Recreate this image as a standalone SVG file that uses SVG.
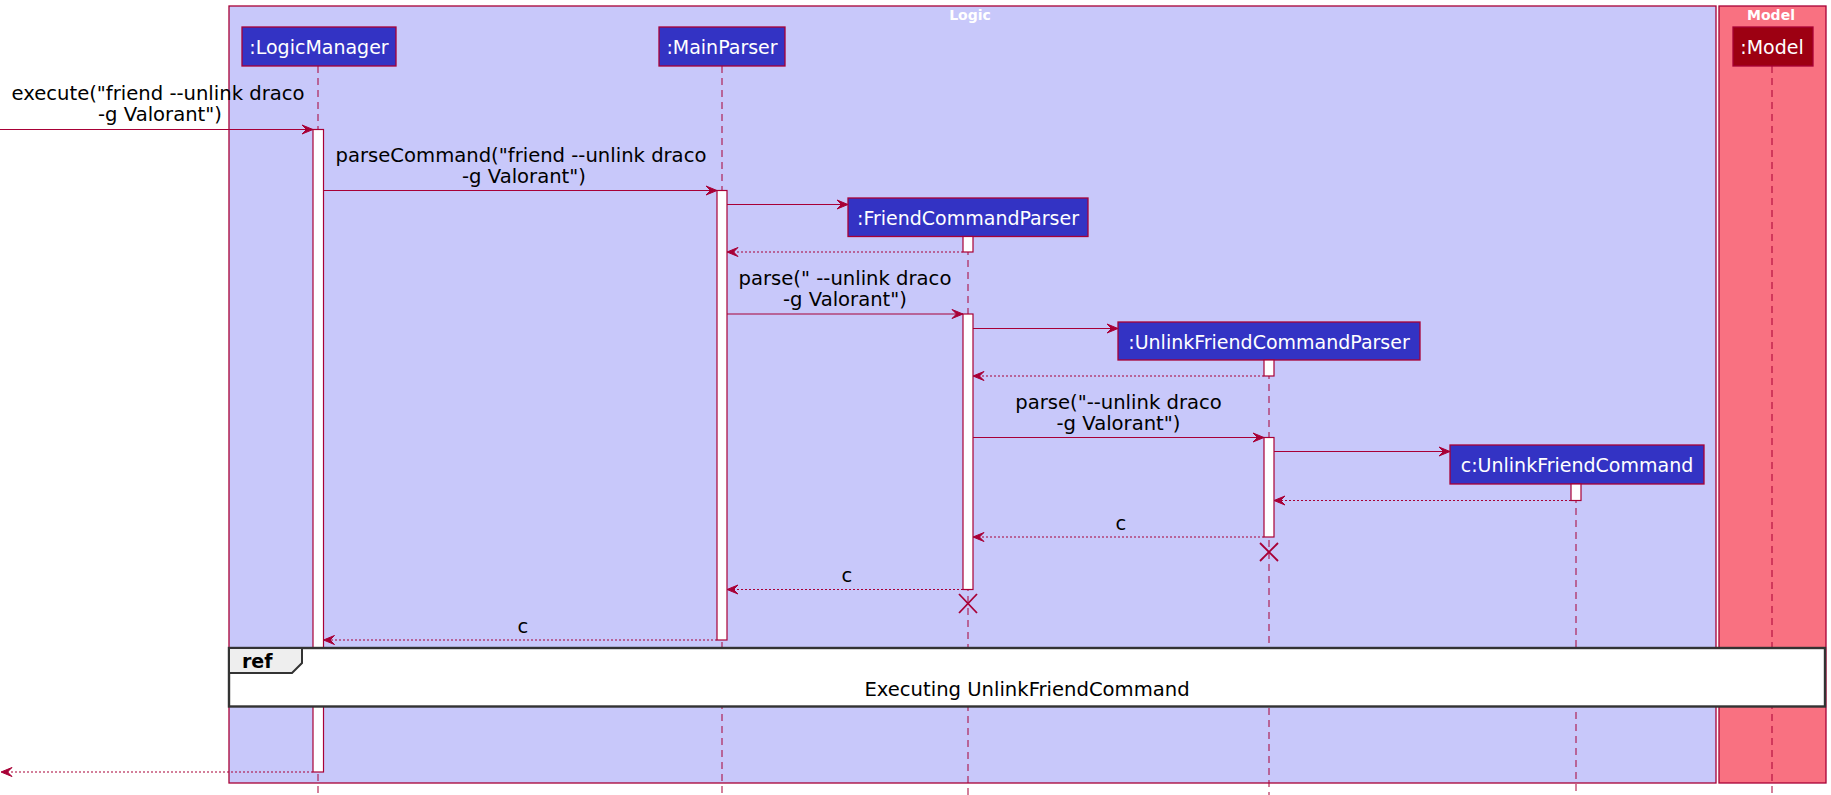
<svg xmlns="http://www.w3.org/2000/svg" width="1831" height="795" viewBox="0 0 1831 795">
<defs>
<style>
.frame{stroke:#A80036;stroke-width:1.3}
.ftitle{font-family:"DejaVu Sans",sans-serif;font-size:14px;font-weight:bold;fill:#FFFFFF;text-anchor:middle}
.head{stroke:#A80036;stroke-width:1.3}
.htxt{font-family:"DejaVu Sans",sans-serif;font-size:19px;fill:#FFFFFF;text-anchor:middle}
.life{stroke:#A80036;stroke-width:1;stroke-dasharray:7,5;fill:none}
.act{fill:#FFFFFF;stroke:#A80036;stroke-width:1.2}
.msg{stroke:#A80036;stroke-width:1.2;fill:none}
.ret{stroke:#A80036;stroke-width:1.2;fill:none;stroke-dasharray:2,2}
.mtxt{font-family:"DejaVu Sans",sans-serif;font-size:19.6px;fill:#000000;text-anchor:middle}
.kill{stroke:#A80036;stroke-width:1.8}
</style>
<marker id="ah" viewBox="-12 -6 13 12" refX="0" refY="0" markerWidth="13" markerHeight="12" markerUnits="userSpaceOnUse" orient="auto">
<path d="M0,0 L-11,-4.5 L-6.5,0 L-11,4.5 Z" fill="#A80036" stroke="#A80036" stroke-width="1" stroke-dasharray="none"/>
</marker>
</defs>
<rect width="1831" height="795" fill="#FFFFFF"/>

<g id="box-logic">
<rect class="frame" x="229" y="6" width="1487" height="777" fill="#C8C8FA"/>
<text class="ftitle" x="970" y="20">Logic</text>
</g>
<g id="box-model">
<rect class="frame" x="1719" y="6" width="107" height="777" fill="#F97181"/>
<text class="ftitle" x="1771" y="20">Model</text>
</g>

<g id="lifelines">
<line class="life" x1="318" y1="66" x2="318" y2="795"/>
<line class="life" x1="722" y1="66" x2="722" y2="795"/>
<line class="life" x1="968" y1="236" x2="968" y2="795"/>
<line class="life" x1="1269" y1="360" x2="1269" y2="795"/>
<line class="life" x1="1576" y1="484" x2="1576" y2="795"/>
<line class="life" x1="1772" y1="66" x2="1772" y2="795"/>
</g>

<g id="LogicManager">
<rect class="head" x="242" y="27" width="154" height="39" fill="#3333C4"/>
<text class="htxt" x="319" y="54">:LogicManager</text>
<rect class="act" x="313" y="129.5" width="10.5" height="642.5"/>
</g>
<g id="MainParser">
<rect class="head" x="659" y="27" width="126" height="39" fill="#3333C4"/>
<text class="htxt" x="722" y="54">:MainParser</text>
<rect class="act" x="717" y="190.5" width="10" height="449.5"/>
</g>
<g id="FriendCommandParser">
<rect class="head" x="848" y="198" width="240" height="38.5" fill="#3333C4"/>
<text class="htxt" x="968" y="225">:FriendCommandParser</text>
<rect class="act" x="963" y="236.5" width="10" height="15.5"/>
<rect class="act" x="963" y="314" width="10" height="275.5"/>
<line class="kill" x1="959" y1="594" x2="977" y2="613"/>
<line class="kill" x1="977" y1="594" x2="959" y2="613"/>
</g>
<g id="UnlinkFriendCommandParser">
<rect class="head" x="1118" y="322" width="302" height="38" fill="#3333C4"/>
<text class="htxt" x="1269" y="349">:UnlinkFriendCommandParser</text>
<rect class="act" x="1264" y="360" width="10" height="16"/>
<rect class="act" x="1264" y="437.5" width="10" height="99.5"/>
<line class="kill" x1="1260" y1="543" x2="1278" y2="561"/>
<line class="kill" x1="1278" y1="543" x2="1260" y2="561"/>
</g>
<g id="UnlinkFriendCommand">
<rect class="head" x="1450" y="445" width="254" height="39" fill="#3333C4"/>
<text class="htxt" x="1577" y="472">c:UnlinkFriendCommand</text>
<rect class="act" x="1571" y="484" width="10" height="16.5"/>
</g>
<g id="Model">
<rect class="head" x="1733" y="27" width="80" height="39" fill="#9D0012" stroke="#C0506A"/>
<text class="htxt" x="1772" y="54">:Model</text>
</g>

<g id="connectors">
<line class="msg" x1="0" y1="129.5" x2="313" y2="129.5" marker-end="url(#ah)"/>
<text class="mtxt" x="158" y="100">execute("friend --unlink draco</text>
<text class="mtxt" x="160" y="121">-g Valorant")</text>

<line class="msg" x1="323.5" y1="190.5" x2="717" y2="190.5" marker-end="url(#ah)"/>
<text class="mtxt" x="521" y="161.5">parseCommand("friend --unlink draco</text>
<text class="mtxt" x="524" y="182.5">-g Valorant")</text>

<line class="msg" x1="727" y1="204.5" x2="848" y2="204.5" marker-end="url(#ah)"/>
<line class="ret" x1="963" y1="252" x2="727" y2="252" marker-end="url(#ah)"/>

<line class="msg" x1="727" y1="314" x2="963" y2="314" marker-end="url(#ah)"/>
<text class="mtxt" x="845" y="285">parse(" --unlink draco</text>
<text class="mtxt" x="845" y="306">-g Valorant")</text>

<line class="msg" x1="973" y1="328.5" x2="1118" y2="328.5" marker-end="url(#ah)"/>
<line class="ret" x1="1264" y1="376" x2="973" y2="376" marker-end="url(#ah)"/>

<line class="msg" x1="973" y1="437.5" x2="1264" y2="437.5" marker-end="url(#ah)"/>
<text class="mtxt" x="1118.5" y="408.5">parse("--unlink draco</text>
<text class="mtxt" x="1118.5" y="429.5">-g Valorant")</text>

<line class="msg" x1="1274" y1="451.5" x2="1450" y2="451.5" marker-end="url(#ah)"/>
<line class="ret" x1="1571" y1="500.5" x2="1274" y2="500.5" marker-end="url(#ah)"/>

<line class="ret" x1="1264" y1="537" x2="973" y2="537" marker-end="url(#ah)"/>
<text class="mtxt" x="1121" y="530">c</text>

<line class="ret" x1="963" y1="589.5" x2="727" y2="589.5" marker-end="url(#ah)"/>
<text class="mtxt" x="847" y="582">c</text>

<line class="ret" x1="717" y1="640" x2="323.5" y2="640" marker-end="url(#ah)"/>
<text class="mtxt" x="523" y="633">c</text>

<line class="ret" x1="313" y1="772" x2="1" y2="772" marker-end="url(#ah)"/>
</g>

<g id="ref">
<rect x="229" y="648" width="1596" height="58.5" fill="#FFFFFF" stroke="#333333" stroke-width="2.4"/>
<polygon points="229,648 302,648 302,663 292,673 229,673" fill="#EEEEEE" stroke="#333333" stroke-width="2"/>
<text x="242" y="668" font-family="DejaVu Sans, sans-serif" font-size="19" font-weight="bold" fill="#000000">ref</text>
<text class="mtxt" x="1027" y="696">Executing UnlinkFriendCommand</text>
</g>
</svg>
